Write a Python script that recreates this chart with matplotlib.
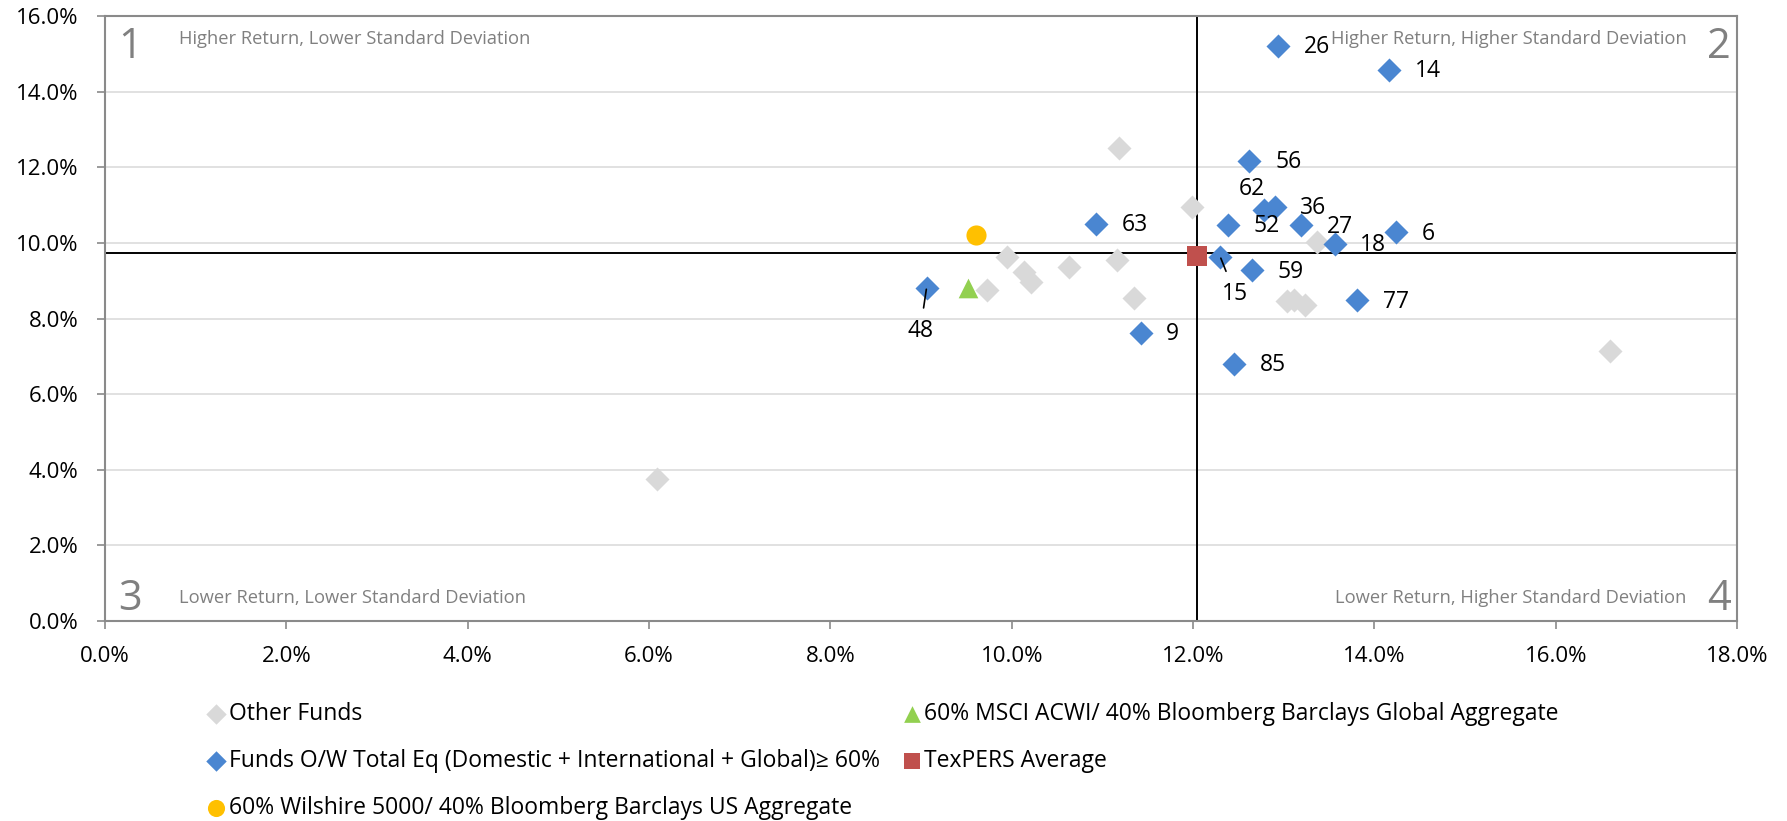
import numpy as np
import matplotlib.pyplot as plt
from matplotlib.ticker import PercentFormatter, MultipleLocator

plt.rcParams['font.family'] = ['Open Sans', 'DejaVu Sans']

# standard deviation (x) vs return (y), both in percent
other_sd = [11.18, 11.99, 13.37, 9.95, 11.16, 10.63, 10.14, 10.21, 9.73, 11.35,
            13.04, 13.11, 13.23, 16.60, 6.09]
other_ret = [12.51, 10.94, 10.02, 9.62, 9.56, 9.36, 9.22, 8.97, 8.75, 8.53,
             8.46, 8.48, 8.37, 7.14, 3.76]

eq_ids = ['26', '14', '56', '62', '36', '63', '52', '27', '18', '6',
          '15', '59', '48', '77', '9', '85']
eq_sd = [12.94, 14.16, 12.62, 12.78, 12.90, 10.93, 12.38, 13.19, 13.56, 14.24,
         12.30, 12.65, 9.06, 13.81, 11.42, 12.45]
eq_ret = [15.21, 14.57, 12.17, 10.86, 10.95, 10.51, 10.47, 10.46, 9.98, 10.28,
          9.63, 9.27, 8.81, 8.48, 7.62, 6.81]

msci_sd, msci_ret = 9.52, 8.82
wilshire_sd, wilshire_ret = 9.61, 10.20
texpers_sd, texpers_ret = 12.04, 9.65

# quadrant split lines
split_sd, split_ret = 12.04, 9.74

quadrants = [
    ('1', 'Higher Return, Lower Standard Deviation'),
    ('2', 'Higher Return, Higher Standard Deviation'),
    ('3', 'Lower Return, Lower Standard Deviation'),
    ('4', 'Lower Return, Higher Standard Deviation'),
]

fig = plt.figure(figsize=(17.87, 8.21), dpi=100)
ax = fig.add_axes([0.0588, 0.2436, 0.9133, 0.7369])

ax.set_xlim(0, 18)
ax.set_ylim(0, 16)
ax.xaxis.set_major_locator(MultipleLocator(2))
ax.yaxis.set_major_locator(MultipleLocator(2))
ax.xaxis.set_major_formatter(PercentFormatter(decimals=1))
ax.yaxis.set_major_formatter(PercentFormatter(decimals=1))
ax.grid(axis='y', color='#d9d9d9', lw=1.1)
ax.set_axisbelow(True)
for s in ax.spines.values():
    s.set_color('#8a8a8a')
    s.set_linewidth(1.5)
ax.tick_params(axis='both', color='#8a8a8a', width=1.2, length=6, labelsize=16)
ax.tick_params(axis='x', pad=12)
ax.tick_params(axis='y', pad=13)

ax.axvline(split_sd, color='black', lw=1.4, zorder=2)
ax.axhline(split_ret, color='black', lw=1.4, zorder=2)

h_other = ax.scatter(other_sd, other_ret, marker='D', s=150, color='#d9d9d9',
                     lw=0, zorder=3, label='Other Funds')
h_msci = ax.scatter([msci_sd], [msci_ret], marker='^', s=200, color='#92d050',
                    lw=0, zorder=3, label='60% MSCI ACWI/ 40% Bloomberg Barclays Global Aggregate')
h_eq = ax.scatter(eq_sd, eq_ret, marker='D', s=150, color='#4a86d1', lw=0, zorder=4,
                  label='Funds O/W Total Eq (Domestic + International + Global)\u2265 60%')
h_tex = ax.scatter([texpers_sd], [texpers_ret], marker='s', s=190, color='#c0504d',
                   lw=0, zorder=5, label='TexPERS Average')
h_wil = ax.scatter([wilshire_sd], [wilshire_ret], marker='o', s=210, color='#ffc000',
                   lw=0, zorder=5, label='60% Wilshire 5000/ 40% Bloomberg Barclays US Aggregate')

# fund number labels; a few sit below with a leader line
label_pos = {'62': (-8.5, 15.6), '15': (10.5, -26.6), '48': (-4.6, -31)}
for name, x, y in zip(eq_ids, eq_sd, eq_ret):
    if name in ('15', '48'):
        ax.annotate(name, (x, y), xytext=label_pos[name], textcoords='offset points',
                    ha='center', va='center', fontsize=16.5, zorder=6,
                    arrowprops=dict(arrowstyle='-', color='black', lw=1.2,
                                    shrinkA=6, shrinkB=1))
    elif name in label_pos:
        ax.annotate(name, (x, y), xytext=label_pos[name], textcoords='offset points',
                    ha='center', va='center', fontsize=16.5, zorder=6)
    else:
        ax.annotate(name, (x, y), xytext=(18.5, -1), textcoords='offset points',
                    ha='left', va='center', fontsize=16.5, zorder=6)

# quadrant captions
qcol = '#808080'
ax.text(0.0153, 0.948, quadrants[0][0], transform=ax.transAxes, fontsize=30,
        color=qcol, ha='center', va='center')
ax.text(0.0453, 0.962, quadrants[0][1], transform=ax.transAxes, fontsize=13.2,
        color=qcol, ha='left', va='center')
ax.text(0.989, 0.948, quadrants[1][0], transform=ax.transAxes, fontsize=30,
        color=qcol, ha='center', va='center')
ax.text(0.969, 0.962, quadrants[1][1], transform=ax.transAxes, fontsize=13.2,
        color=qcol, ha='right', va='center')
ax.text(0.0153, 0.036, quadrants[2][0], transform=ax.transAxes, fontsize=30,
        color=qcol, ha='center', va='center')
ax.text(0.0453, 0.038, quadrants[2][1], transform=ax.transAxes, fontsize=13.2,
        color=qcol, ha='left', va='center')
ax.text(0.989, 0.036, quadrants[3][0], transform=ax.transAxes, fontsize=30,
        color=qcol, ha='center', va='center')
ax.text(0.969, 0.038, quadrants[3][1], transform=ax.transAxes, fontsize=13.2,
        color=qcol, ha='right', va='center')

handles = [h_other, h_eq, h_wil, h_msci, h_tex]
fig.legend(handles=handles, labels=[h.get_label() for h in handles], ncol=2,
           loc='upper left', bbox_to_anchor=(0.1165, 0.1445), frameon=False,
           fontsize=16.5, handlelength=0.7, handletextpad=0.2, columnspacing=1.05,
           labelspacing=1.0, borderpad=0, borderaxespad=0, markerscale=0.85)

fig.savefig('out.png', dpi=100)
